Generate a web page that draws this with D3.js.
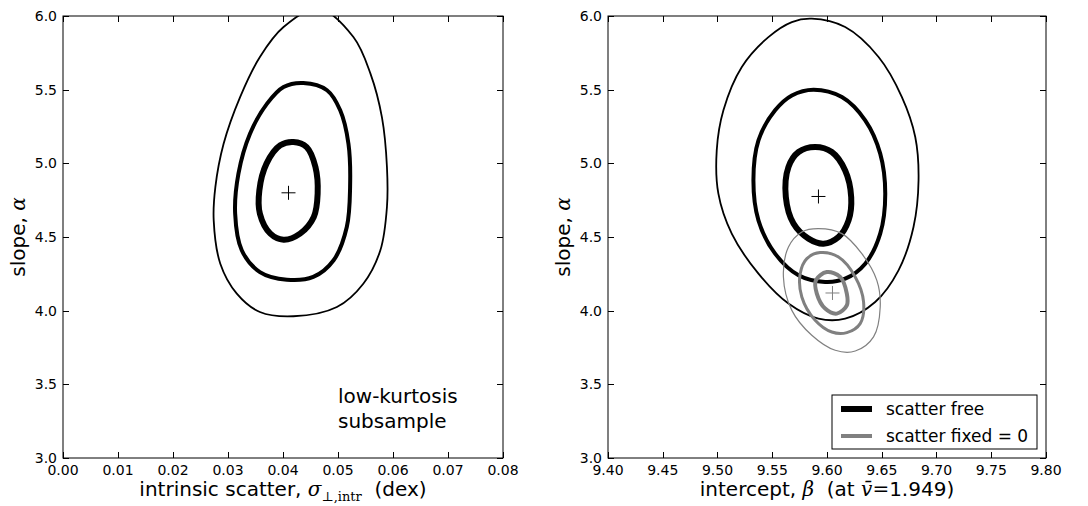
<!DOCTYPE html>
<html>
<head>
<meta charset="utf-8">
<script src="https://cdn.jsdelivr.net/npm/d3@7"></script>
<style>
  body { margin: 0; background: #fff; }
  svg { display: block; font-family: "DejaVu Sans", sans-serif; }
  .tick-label { font-size: 14px; fill: #000; }
  .axis-title { font-size: 20px; fill: #000; }
  .math { font-family: "DejaVu Serif", "Liberation Serif", serif; font-style: italic; }
</style>
</head>
<body>
<svg id="chart" width="1088" height="506"></svg>
<script>
// tick values
const yTicks = [3.0, 3.5, 4.0, 4.5, 5.0, 5.5, 6.0];
const scatterTicks = [0.00, 0.01, 0.02, 0.03, 0.04, 0.05, 0.06, 0.07, 0.08];
const interceptTicks = [9.40, 9.45, 9.50, 9.55, 9.60, 9.65, 9.70, 9.75, 9.80];

// left panel: scatter vs slope contours (1, 2, 3 sigma)
const scatterInner = [
  [0.0419, 5.145], [0.0443, 5.11], [0.0459, 4.975], [0.0463, 4.794], [0.0456, 4.636],
  [0.0431, 4.523], [0.0401, 4.482], [0.0377, 4.523], [0.0358, 4.658], [0.0357, 4.817],
  [0.0370, 4.998], [0.0395, 5.122]
];
const scatterMiddle = [
  [0.0437, 5.545], [0.0480, 5.496], [0.0504, 5.36], [0.0519, 5.133], [0.0522, 4.839],
  [0.0516, 4.568], [0.0492, 4.342], [0.0455, 4.229], [0.0407, 4.21], [0.0358, 4.262],
  [0.0325, 4.41], [0.0313, 4.658], [0.0319, 4.93], [0.0340, 5.201], [0.0371, 5.405],
  [0.0401, 5.518]
];
const scatterOuter = [
  [0.0465, 6.05], [0.0528, 5.857], [0.0559, 5.609], [0.0580, 5.31], [0.0589, 4.975],
  [0.0589, 4.704], [0.0577, 4.41], [0.0546, 4.183], [0.0498, 4.025], [0.0419, 3.962],
  [0.0358, 3.991], [0.0316, 4.116], [0.0286, 4.319], [0.0274, 4.613], [0.0277, 4.839],
  [0.0292, 5.133], [0.0322, 5.45], [0.0358, 5.722], [0.0401, 5.925]
];
const scatterBest = [0.0410, 4.80];

// right panel: intercept vs slope, scatter free (black)
const freeInner = [
  [9.5892, 5.111], [9.6044, 5.077], [9.6166, 4.952], [9.6221, 4.771], [9.6197, 4.613],
  [9.6105, 4.50], [9.5968, 4.455], [9.5831, 4.489], [9.5694, 4.591], [9.5624, 4.771],
  [9.5648, 4.975], [9.5740, 5.077]
];
const freeMiddle = [
  [9.5877, 5.50], [9.6136, 5.45], [9.6349, 5.292], [9.6486, 5.066], [9.6532, 4.794],
  [9.6486, 4.523], [9.6349, 4.319], [9.6166, 4.217], [9.5983, 4.195], [9.5740, 4.24],
  [9.5526, 4.387], [9.5374, 4.613], [9.5328, 4.885], [9.5374, 5.156], [9.5526, 5.36],
  [9.5679, 5.461]
];
const freeOuter = [
  [9.5861, 5.982], [9.6166, 5.925], [9.6471, 5.722], [9.6684, 5.45], [9.6806, 5.179],
  [9.6836, 4.885], [9.6790, 4.568], [9.6653, 4.274], [9.6440, 4.059], [9.6166, 3.946],
  [9.5922, 3.946], [9.5648, 4.048], [9.5374, 4.251], [9.5130, 4.523], [9.5008, 4.794],
  [9.4993, 5.088], [9.5054, 5.36], [9.5222, 5.654], [9.5465, 5.857], [9.5679, 5.959]
];
const freeBest = [9.5922, 4.775];

// right panel: scatter fixed = 0 (grey)
const fixedInner = [
  [9.5998, 4.262], [9.6120, 4.229], [9.6181, 4.116], [9.6181, 4.036], [9.6090, 3.98],
  [9.5983, 4.014], [9.5907, 4.116], [9.5898, 4.206]
];
const fixedMiddle = [
  [9.5937, 4.394], [9.6105, 4.364], [9.6258, 4.229], [9.6334, 4.059], [9.6303, 3.912],
  [9.6181, 3.851], [9.6044, 3.855], [9.5892, 3.935], [9.5770, 4.093], [9.5755, 4.251],
  [9.5816, 4.353]
];
const fixedOuter = [
  [9.5922, 4.557], [9.6136, 4.523], [9.6318, 4.387], [9.6455, 4.206], [9.6486, 4.025],
  [9.6425, 3.822], [9.6258, 3.726], [9.6075, 3.731], [9.5861, 3.833], [9.5679, 4.002],
  [9.5602, 4.229], [9.5648, 4.432], [9.5770, 4.534]
];
const fixedBest = [9.6050, 4.12];

const legendLabels = ["scatter free", "scatter fixed = 0"];

const svg = d3.select("#chart");
const plotTop = 16, plotBottom = 458;
const levelWidths = [6, 4, 1.8];   // inner, middle, outer
const greyWidths = [4, 3, 1.2];

const panels = [
  {
    id: "left", x0: 63, x1: 503, domain: [0, 0.08], ticks: scatterTicks,
    groups: [{ color: "#000", widths: levelWidths, rings: [scatterInner, scatterMiddle, scatterOuter], best: scatterBest }]
  },
  {
    id: "right", x0: 608, x1: 1046, domain: [9.40, 9.80], ticks: interceptTicks,
    groups: [
      { color: "#000", widths: levelWidths, rings: [freeInner, freeMiddle, freeOuter], best: freeBest },
      { color: "#808080", widths: greyWidths, rings: [fixedInner, fixedMiddle, fixedOuter], best: fixedBest }
    ]
  }
];

const y = d3.scaleLinear().domain([3, 6]).range([plotBottom, plotTop]);

panels.forEach(p => {
  const x = d3.scaleLinear().domain(p.domain).range([p.x0, p.x1]);
  const g = svg.append("g");

  svg.append("defs").append("clipPath").attr("id", "clip-" + p.id)
    .append("rect").attr("x", p.x0).attr("y", plotTop).attr("width", p.x1 - p.x0).attr("height", plotBottom - plotTop);

  const line = d3.line().x(d => x(d[0])).y(d => y(d[1])).curve(d3.curveCatmullRomClosed.alpha(0.5));
  const plot = g.append("g").attr("clip-path", `url(#clip-${p.id})`);

  p.groups.forEach(grp => {
    grp.rings.forEach((ring, i) => {
      plot.append("path")
        .attr("d", line(ring))
        .attr("fill", "none")
        .attr("stroke", grp.color)
        .attr("stroke-width", grp.widths[i]);
    });
    const cx = x(grp.best[0]), cy = y(grp.best[1]);
    plot.append("path")
      .attr("d", `M${cx - 7},${cy}H${cx + 7}M${cx},${cy - 7}V${cy + 7}`)
      .attr("stroke", grp.color)
      .attr("stroke-width", 1);
  });

  // frame
  g.append("rect")
    .attr("x", p.x0).attr("y", plotTop)
    .attr("width", p.x1 - p.x0).attr("height", plotBottom - plotTop)
    .attr("fill", "none").attr("stroke", "#000").attr("stroke-width", 1);

  // inward ticks on all four sides
  const tickLen = 6;
  p.ticks.forEach(t => {
    const px = Math.round(x(t)) + 0.5;
    g.append("line").attr("x1", px).attr("x2", px).attr("y1", plotBottom).attr("y2", plotBottom - tickLen).attr("stroke", "#000");
    g.append("line").attr("x1", px).attr("x2", px).attr("y1", plotTop).attr("y2", plotTop + tickLen).attr("stroke", "#000");
    g.append("text").attr("class", "tick-label")
      .attr("x", x(t)).attr("y", plotBottom + 17)
      .attr("text-anchor", "middle")
      .text(d3.format(".2f")(t));
  });
  yTicks.forEach(t => {
    const py = Math.round(y(t)) + 0.5;
    g.append("line").attr("x1", p.x0).attr("x2", p.x0 + tickLen).attr("y1", py).attr("y2", py).attr("stroke", "#000");
    g.append("line").attr("x1", p.x1).attr("x2", p.x1 - tickLen).attr("y1", py).attr("y2", py).attr("stroke", "#000");
    g.append("text").attr("class", "tick-label")
      .attr("x", p.x0 - 6).attr("y", y(t) + 5)
      .attr("text-anchor", "end")
      .text(d3.format(".1f")(t));
  });

  // y title
  const yt = g.append("text").attr("class", "axis-title")
    .attr("transform", `translate(${p.x0 - 38},${(plotTop + plotBottom) / 2}) rotate(-90)`)
    .attr("text-anchor", "middle");
  yt.append("tspan").text("slope, ");
  yt.append("tspan").attr("class", "math").text("α");

  // x title
  const xt = g.append("text").attr("class", "axis-title")
    .attr("x", (p.x0 + p.x1) / 2).attr("y", 496)
    .attr("text-anchor", "middle");
  if (p.id === "left") {
    xt.append("tspan").text("intrinsic scatter, ");
    xt.append("tspan").attr("class", "math").text("σ");
    xt.append("tspan").attr("font-family", "DejaVu Serif, serif").attr("font-size", 13).attr("dy", 5).text("⊥,intr");
    xt.append("tspan").attr("dy", -5).text("\u00a0 (dex)");
  } else {
    xt.append("tspan").text("intercept, ");
    xt.append("tspan").attr("class", "math").text("β");
    xt.append("tspan").text("\u00a0 (at ");
    xt.append("tspan").attr("class", "math").text("v\u0304");
    xt.append("tspan").attr("font-family", "DejaVu Serif, serif").text("=");
    xt.append("tspan").text("1.949)");
  }
});

// annotation in left panel
const note = svg.append("text").attr("class", "axis-title").attr("x", 338).attr("y", 403);
note.append("tspan").text("low-kurtosis");
note.append("tspan").attr("x", 338).attr("dy", 25).text("subsample");

// legend in right panel
const legend = svg.append("g");
legend.append("rect")
  .attr("x", 832).attr("y", 395).attr("width", 205).attr("height", 54)
  .attr("fill", "#fff").attr("stroke", "#000").attr("stroke-width", 1);
const legendColors = ["#000", "#808080"];
const legendWidths = [6, 4];
legendLabels.forEach((label, i) => {
  const ly = 409 + i * 27;
  legend.append("line").attr("x1", 841).attr("x2", 872).attr("y1", ly).attr("y2", ly)
    .attr("stroke", legendColors[i]).attr("stroke-width", legendWidths[i]);
  legend.append("text").attr("x", 886).attr("y", ly + 6)
    .style("font-size", "17px").text(label);
});
</script>
</body>
</html>
